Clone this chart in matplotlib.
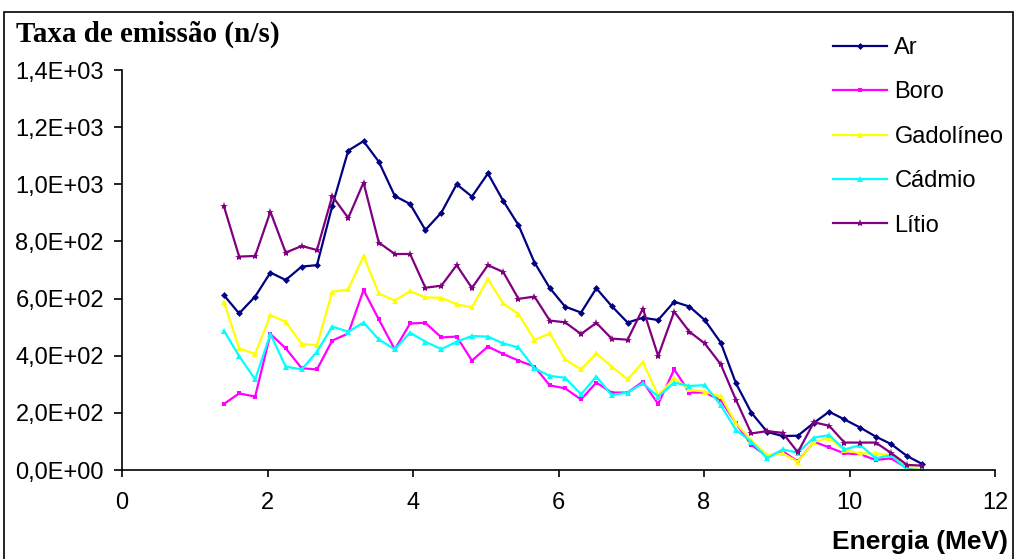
import matplotlib
matplotlib.use('Agg')
import matplotlib.pyplot as plt
from matplotlib.ticker import FuncFormatter, MultipleLocator
from matplotlib.patches import Rectangle

# energy bins (MeV)
energia = [1.40, 1.61, 1.83, 2.04, 2.25, 2.47, 2.68, 2.89, 3.11, 3.32,
           3.53, 3.75, 3.96, 4.17, 4.39, 4.60, 4.81, 5.03, 5.24, 5.45,
           5.67, 5.88, 6.09, 6.31, 6.52, 6.73, 6.95, 7.16, 7.37, 7.59,
           7.80, 8.01, 8.23, 8.44, 8.65, 8.87, 9.08, 9.29, 9.51, 9.72,
           9.93, 10.15, 10.36, 10.57, 10.79, 11.00]

ar = [612, 548, 607, 691, 665, 712, 717, 924, 1118, 1151,
      1079, 959, 931, 840, 901, 1000, 957, 1038, 942, 857,
      726, 637, 572, 551, 636, 574, 516, 533, 525, 589,
      572, 525, 446, 303, 201, 133, 119, 120, 165, 204,
      177, 148, 117, 91, 49, 21]

boro = [231, 268, 257, 476, 426, 356, 352, 453, 478, 630,
        527, 422, 513, 515, 464, 467, 383, 432, 406, 383,
        362, 296, 286, 247, 306, 271, 271, 309, 231, 352,
        271, 271, 245, 163, 88, 47, 66, 30, 99, 79,
        58, 55, 35, 41, 6, 0]

gadolineo = [589, 426, 406, 542, 519, 441, 437, 624, 632, 749,
             618, 593, 626, 604, 603, 580, 569, 668, 583, 546,
             455, 478, 387, 352, 408, 362, 317, 377, 262, 321,
             282, 274, 258, 163, 105, 52, 58, 29, 99, 111,
             70, 58, 58, 52, 12, 2]

cadmio = [488, 399, 317, 476, 362, 352, 414, 502, 484, 516,
          457, 422, 481, 449, 423, 449, 469, 467, 443, 429,
          356, 329, 323, 265, 327, 262, 271, 303, 257, 306,
          294, 297, 227, 140, 99, 41, 72, 61, 113, 122,
          72, 87, 41, 52, 2, 0]

litio = [924, 747, 749, 904, 761, 784, 770, 959, 882, 1006,
         796, 756, 756, 638, 645, 717, 637, 717, 693, 599,
         607, 523, 517, 476, 515, 460, 456, 565, 399, 554,
         484, 443, 370, 245, 128, 136, 130, 62, 167, 155,
         96, 96, 96, 60, 18, 15]

series = [('Ar', ar, '#000080', 'D', 3.5),
          ('Boro', boro, '#FF00FF', 's', 3.5),
          ('Gadolíneo', gadolineo, '#FFFF00', '^', 5),
          ('Cádmio', cadmio, '#00FFFF', '^', 4.5),
          ('Lítio', litio, '#800080', '*', 6)]

plt.rcParams['font.family'] = ['Liberation Sans', 'DejaVu Sans']

fig = plt.figure(figsize=(10.16, 5.59), dpi=100)
ax = fig.add_axes([122 / 1016, 1 - 470 / 559, 873 / 1016, 400 / 559])

for nome, vals, cor, mk, ms in series:
    ax.plot(energia, vals, color=cor, linewidth=1.6, marker=mk,
            markersize=ms, markeredgewidth=0, label=nome)

ax.set_xlim(0, 12)
ax.set_ylim(0, 1400)
ax.xaxis.set_major_locator(MultipleLocator(2))
ax.yaxis.set_major_locator(MultipleLocator(200))
ax.yaxis.set_major_formatter(
    FuncFormatter(lambda v, p: f'{v:.1E}'.replace('.', ',')))

for s in ['top', 'right']:
    ax.spines[s].set_visible(False)
for s in ['left', 'bottom']:
    ax.spines[s].set_linewidth(1.2)
    ax.spines[s].set_color('black')

ax.tick_params(axis='y', direction='out', length=6, width=1.2,
               labelsize=17, pad=7)
ax.tick_params(axis='x', direction='out', length=5, width=1.2,
               labelsize=17, pad=11)

fig.text(16 / 1016, 1 - 42 / 559, 'Taxa de emissão (n/s)',
         family='Liberation Serif', fontweight='bold', fontsize=21,
         ha='left', va='baseline')
fig.text(1008 / 1016, 1 - 549 / 559, 'Energia (MeV)',
         fontweight='bold', fontsize=19, ha='right', va='baseline')

ax.legend(loc='upper left', bbox_to_anchor=(833 / 1016, 1 - 37 / 559),
          bbox_transform=fig.transFigure, frameon=False, fontsize=17,
          handlelength=2.3, handletextpad=0.3, labelspacing=0.95,
          borderpad=0, borderaxespad=0)

# outer chart border
fig.add_artist(Rectangle((4 / 1016, -0.05), 1009 / 1016, 1.05 - 12 / 559,
                         transform=fig.transFigure, fill=False,
                         edgecolor='black', linewidth=1.2))

fig.savefig('out.png', dpi=100)
